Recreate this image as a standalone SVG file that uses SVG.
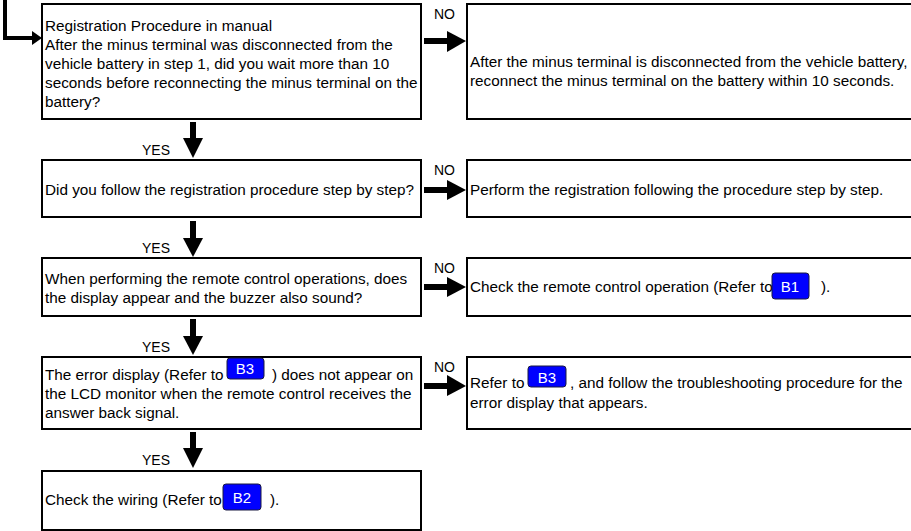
<svg xmlns="http://www.w3.org/2000/svg" width="911" height="531" viewBox="0 0 911 531">
<style>
.box{fill:#fff;stroke:#000;stroke-width:2}
.t{font-family:"Liberation Sans",Arial,sans-serif;font-size:15.3px;fill:#000}
.lbl{font-family:"Liberation Sans",Arial,sans-serif;font-size:14px;fill:#000}
.badge{fill:#0000ff;stroke:#1a1a40;stroke-width:1}
.bt{font-family:"Liberation Sans",Arial,sans-serif;font-size:15px;fill:#fff;text-anchor:middle}
.arr{fill:#000}
</style>
<rect width="911" height="531" fill="#fff"/>
<g id="connectors">
<path d="M3,0 H7 V36 H32 V40 H3 Z" class="arr"/>
<polygon points="32,31 42,38 32,45" class="arr"/>
<g id="no-arrows">
<rect x="424" y="38" width="24" height="6" class="arr"/><polygon points="447,31 466,41 447,52" class="arr"/>
<rect x="424" y="187" width="24" height="6" class="arr"/><polygon points="447,180 466,190 447,200" class="arr"/>
<rect x="424" y="284" width="24" height="6" class="arr"/><polygon points="447,277 466,287 447,297" class="arr"/>
<rect x="424" y="383" width="24" height="6" class="arr"/><polygon points="447,375 466,386 447,396" class="arr"/>
</g>
<g id="yes-arrows">
<rect x="190" y="122" width="6" height="17" class="arr"/><polygon points="183,138 203,138 193,158" class="arr"/>
<rect x="190" y="221" width="6" height="18" class="arr"/><polygon points="183,238 203,238 193,257" class="arr"/>
<rect x="190" y="319" width="6" height="18" class="arr"/><polygon points="183,336 203,336 193,355" class="arr"/>
<rect x="190" y="432" width="6" height="17" class="arr"/><polygon points="183,448 203,448 193,468" class="arr"/>
</g>
<text class="lbl" x="434" y="19">NO</text>
<text class="lbl" x="434" y="175">NO</text>
<text class="lbl" x="434" y="273">NO</text>
<text class="lbl" x="434" y="372">NO</text>
<text class="lbl" x="142" y="155">YES</text>
<text class="lbl" x="142" y="253">YES</text>
<text class="lbl" x="142" y="352">YES</text>
<text class="lbl" x="142" y="465">YES</text>
</g>
<g id="q1">
<rect class="box" x="42" y="4" width="379" height="115"/>
<text class="t" x="45" y="31">Registration Procedure in manual</text>
<text class="t" x="45" y="50">After the minus terminal was disconnected from the</text>
<text class="t" x="45" y="69">vehicle battery in step 1, did you wait more than 10</text>
<text class="t" x="45" y="88">seconds before reconnecting the minus terminal on the</text>
<text class="t" x="45" y="107">battery?</text>
</g>
<g id="a1">
<rect class="box" x="467" y="4" width="450" height="115"/>
<text class="t" x="470" y="67">After the minus terminal is disconnected from the vehicle battery,</text>
<text class="t" x="470" y="86">reconnect the minus terminal on the battery within 10 seconds.</text>
</g>
<g id="q2">
<rect class="box" x="42" y="160" width="379" height="57"/>
<text class="t" x="45" y="195">Did you follow the registration procedure step by step?</text>
</g>
<g id="a2">
<rect class="box" x="467" y="160" width="450" height="57"/>
<text class="t" x="470" y="195">Perform the registration following the procedure step by step.</text>
</g>
<g id="q3">
<rect class="box" x="42" y="258" width="379" height="58"/>
<text class="t" x="45" y="284">When performing the remote control operations, does</text>
<text class="t" x="45" y="303">the display appear and the buzzer also sound?</text>
</g>
<g id="a3">
<rect class="box" x="467" y="258" width="450" height="58"/>
<text class="t" x="470" y="292">Check the remote control operation (Refer to</text>
<rect class="badge" x="772" y="273" width="37" height="26" rx="3"/>
<text class="bt" x="790" y="292">B1</text>
<text class="t" x="821" y="292">).</text>
</g>
<g id="q4">
<rect class="box" x="42" y="357" width="379" height="72"/>
<text class="t" x="45" y="380">The error display (Refer to</text>
<rect class="badge" x="227" y="358" width="37" height="21" rx="3"/>
<text class="bt" x="245" y="374">B3</text>
<text class="t" x="272" y="380">) does not appear on</text>
<text class="t" x="45" y="399">the LCD monitor when the remote control receives the</text>
<text class="t" x="45" y="418">answer back signal.</text>
</g>
<g id="a4">
<rect class="box" x="467" y="357" width="450" height="72"/>
<text class="t" x="470" y="388">Refer to</text>
<rect class="badge" x="528" y="366" width="38" height="21" rx="3"/>
<text class="bt" x="547" y="383">B3</text>
<text class="t" x="570" y="388">, and follow the troubleshooting procedure for the</text>
<text class="t" x="470" y="408">error display that appears.</text>
</g>
<g id="end">
<rect class="box" x="42" y="471" width="379" height="59"/>
<text class="t" x="45" y="505">Check the wiring (Refer to</text>
<rect class="badge" x="223" y="484" width="38" height="26" rx="3"/>
<text class="bt" x="242" y="503">B2</text>
<text class="t" x="270" y="505">).</text>
</g>
</svg>
